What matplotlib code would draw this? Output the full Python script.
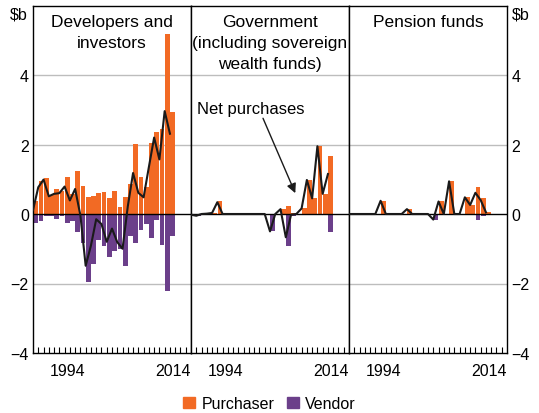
import numpy as np
import matplotlib
matplotlib.use("Agg")
import matplotlib.pyplot as plt
from matplotlib.patches import Patch

plt.rcParams['font.family'] = ['Liberation Sans', 'DejaVu Sans']

# Annual data, $b, 1988-2014
years = np.arange(1988, 2015)

dev_purch = [0.38, 0.96, 1.04, 0.56, 0.72, 0.67, 1.06, 0.58, 1.25, 0.80, 0.48, 0.53, 0.60, 0.62,
             0.45, 0.65, 0.19, 0.50, 0.86, 2.01, 1.06, 0.77, 2.05, 2.37, 2.45, 5.18, 2.93]
dev_vend = [-0.27, -0.19, -0.05, -0.05, -0.14, -0.07, -0.27, -0.19, -0.53, -0.84, -1.97, -1.44, -0.75, -0.91,
            -1.25, -1.07, -1.00, -1.50, -0.64, -0.83, -0.45, -0.29, -0.70, -0.17, -0.88, -2.22, -0.62]

gov_purch = [0.0, 0.0, 0.0, 0.01, 0.03, 0.37, 0.0, 0.0, 0.0, 0.0, 0.0, 0.0, 0.0, 0.0,
             0.0, 0.0, 0.0, 0.14, 0.24, 0.03, 0.0, 0.16, 0.98, 0.45, 1.95, 0.58, 1.68]
gov_vend = [-0.02, -0.05, 0.0, 0.0, 0.0, -0.03, 0.0, 0.0, 0.0, 0.0, 0.0, 0.0, 0.0, 0.0,
            0.0, -0.50, 0.0, 0.0, -0.91, -0.05, 0.0, 0.0, 0.0, 0.0, 0.0, 0.0, -0.53]

pen_purch = [0.0, 0.0, 0.0, 0.0, 0.0, 0.0, 0.38, 0.0, 0.0, 0.0, 0.0, 0.14, 0.0, 0.0,
             0.0, 0.0, 0.0, 0.36, 0.0, 0.94, 0.0, 0.0, 0.48, 0.26, 0.77, 0.45, 0.05]
pen_vend = [0.0, 0.0, 0.0, 0.0, 0.0, 0.0, 0.0, 0.0, 0.0, 0.0, 0.0, 0.0, 0.0, 0.0,
            0.0, 0.0, -0.16, 0.0, 0.0, 0.0, 0.0, 0.0, 0.0, 0.0, -0.16, -0.05, 0.0]

titles = ['Developers and\ninvestors', 'Government\n(including sovereign\nwealth funds)', 'Pension funds']
panels = [(dev_purch, dev_vend), (gov_purch, gov_vend), (pen_purch, pen_vend)]

orange = '#F26A24'
purple = '#6B3F8A'
grid = '#BDBDBD'

fig = plt.figure(figsize=(5.39, 4.14), dpi=100)
W, H = 539, 414
left, top, bot, pw = 33, 6.5, 354, 158

axes = []
for i in range(3):
    ax = fig.add_axes([(left + i * pw) / W, 1 - bot / H, pw / W, (bot - top) / H])
    purch, vend = panels[i]
    ax.bar(years, purch, width=0.9, color=orange, zorder=2)
    ax.bar(years, vend, width=0.9, color=purple, zorder=2)
    net = np.array(purch) + np.array(vend)
    ax.plot(years - 0.5, net, color='#1a1a1a', lw=1.5, zorder=3)
    for y in [-2, 2, 4]:
        ax.axhline(y, color=grid, lw=1, zorder=1)
    ax.axhline(0, color='black', lw=1, zorder=2.5)
    ax.set_xlim(1987.5, 2017.5)
    ax.set_ylim(-4, 6)
    ax.set_yticks([-4, -2, 0, 2, 4])
    ax.set_xticks([1994, 2014])
    ax.set_xticks(np.arange(1988.5, 2017, 1), minor=True)
    ax.tick_params(axis='x', which='major', length=0, pad=7, labelsize=11.5)
    ax.tick_params(axis='x', which='minor', direction='in', length=4, width=0.8)
    ax.tick_params(axis='y', length=0, labelsize=11.5, pad=3,
                   labelleft=(i == 0), labelright=(i == 2))
    for s in ax.spines.values():
        s.set_linewidth(1)
    ax.text(0.5, 0.975, titles[i], transform=ax.transAxes, ha='center', va='top',
            fontsize=12.5, linespacing=1.5)
    axes.append(ax)

fig.text(10 / W, 1 - 15 / H, '$b', ha='left', va='center', fontsize=11.5)
fig.text(512 / W, 1 - 15 / H, '$b', ha='left', va='center', fontsize=11.5)

axes[1].annotate('Net purchases', xy=(2007.3, 0.6), xytext=(1988.7, 3.05),
                 fontsize=12, ha='left', va='center',
                 arrowprops=dict(arrowstyle='-|>', color='#1a1a1a', lw=1,
                                 shrinkA=0, shrinkB=0, mutation_scale=14,
                                 relpos=(0.6, 0.0)))

handles = [Patch(color=orange, label='Purchaser'), Patch(color=purple, label='Vendor')]
fig.legend(handles=handles, loc='lower center', bbox_to_anchor=(0.5, -0.03), ncol=2,
           frameon=False, fontsize=11.5, handlelength=0.75, handleheight=0.75,
           handletextpad=0.4, columnspacing=0.8)

fig.savefig('out.png', dpi=100)
